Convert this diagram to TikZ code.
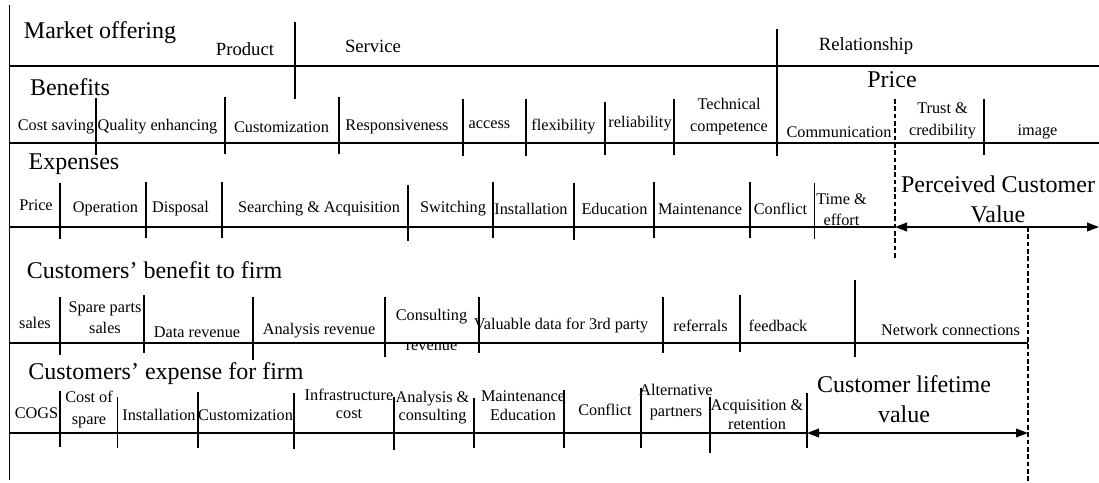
\documentclass[tikz,border=0pt]{standalone}
\usepackage{fontspec}
\setmainfont{Liberation Serif}
\usetikzlibrary{arrows.meta}
\begin{document}
\begin{tikzpicture}[x=0.75pt,y=-0.75pt,
  sepline/.style={line width=1pt},
  rowline/.style={line width=1.2pt},
  dashline/.style={line width=1pt, dash pattern=on 3.5pt off 2pt},
  span/.style={line width=1.2pt, {Triangle[length=9pt,width=6.5pt]}-{Triangle[length=9pt,width=6.5pt]}},
  big/.style={inner sep=0pt, font=\fontsize{18}{23}\selectfont, align=center},
  head/.style={inner sep=0pt, font=\fontsize{14}{16}\selectfont},
  lbl/.style={inner sep=0pt, font=\fontsize{12.2}{16}\selectfont, align=center},
  tight/.style={font=\fontsize{12.2}{14}\selectfont},
]
\useasboundingbox (0,0) rectangle (1099,482);

% ---- frame lines
\draw[sepline] (9.5,5) -- (9.5,480);
\draw[rowline] (9.5,66) -- (1099,66);
\draw[rowline] (9.5,143) -- (1099,143);
\draw[rowline] (9.5,227) -- (895,227);
\draw[rowline] (9.5,343) -- (1028,343);
\draw[rowline] (9.5,433) -- (807,433);

% ---- row 1 separators
\draw[sepline] (295,22) -- (295,99);
\draw[sepline] (777,29) -- (777,156);

% ---- row 2 separators
\foreach \x/\a/\b in {96/98/155, 225/97/154, 339/97/154, 463/99/156, 526/99/156, 605/102/155, 674/99/155, 984/99/155}
  \draw[sepline] (\x,\a) -- (\x,\b);

% ---- row 3 separators
\foreach \x/\a/\b in {60/183/239, 146/182/238, 222/182/238, 408/185/241, 493/182/238, 574/183/240, 654/182/238, 750/182/238, 814.5/183/239}
  \draw[sepline] (\x,\a) -- (\x,\b);

% ---- row 4 separators
\foreach \x/\a/\b in {60/297/355, 144/295/353, 253/297/360, 385/297/357, 479/297/353, 663/297/353, 740/295/352, 855/280/357}
  \draw[sepline] (\x,\a) -- (\x,\b);

% ---- row 5 separators
\foreach \x/\a/\b in {60/391/447, 117.5/397/448, 198/392/448, 294/393/449, 394/397/450, 474/398/448, 564/390/448, 641/388/448, 710/397/453, 807/393/448}
  \draw[sepline] (\x,\a) -- (\x,\b);

% ---- dashed limits and value spans
\coordinate (pcvTop) at (895,99);
\coordinate (pcvL) at (895,227);
\coordinate (pcvBot) at (895,259);
\coordinate (pcvR) at (1099,227);
\coordinate (cltTop) at (1028,227);
\coordinate (cltR) at (1028,433);
\coordinate (cltBot) at (1028,482);
\coordinate (cltL) at (807,433);
\draw[dashline] (pcvTop) -- (pcvBot);
\draw[dashline] (cltTop) -- (cltBot);
\draw[span] (pcvL) -- (pcvR);
\draw[span] (cltL) -- (cltR);

% ---- big headings
\node[big] (mo) at (100,33) {Market offering};
\node[big] (ben) at (70,87) {Benefits};
\node[big] (pr) at (892,80) {Price};
\node[big] (exp) at (74,164) {Expenses};
\node[big] (pcv) at (998,199.5) {Perceived Customer\\Value};
\node[big] (cbf) at (154.5,270) {Customers’ benefit to firm};
\node[big] (cef) at (166,374) {Customers’ expense for firm};
\node[big] (clv) at (904,399) {Customer lifetime\\value};

% ---- row 1
\node[head] (prod) at (245,49) {Product};
\node[head] (serv) at (373,46) {Service};
\node[head] (rel) at (866,46) {Relationship};

% ---- row 2
\node[lbl] (b1) at (56,127) {Cost saving};
\node[lbl] (b2) at (157.5,127) {Quality enhancing};
\node[lbl] (b3) at (281.5,127) {Customization};
\node[lbl] (b4) at (397,127) {Responsiveness};
\node[lbl] (b5) at (489.5,125) {access};
\node[lbl] (b6) at (563.5,127) {flexibility};
\node[lbl] (b7) at (640,124) {reliability};
\node[lbl] (b8) at (729,116.5) {Technical\\competence};
\node[lbl] (b9) at (839,132) {Communication};
\node[lbl] (b10) at (942.5,121) {Trust \&\\credibility};
\node[lbl] (b11) at (1037.5,132) {image};

% ---- row 3
\node[lbl] (e1) at (36,205) {Price};
\node[lbl] (e2) at (105.5,209) {Operation};
\node[lbl] (e3) at (180.5,209) {Disposal};
\node[lbl] (e4) at (319,209) {Searching \& Acquisition};
\node[lbl] (e5) at (453,209) {Switching};
\node[lbl] (e6) at (531,209) {Installation};
\node[lbl] (e7) at (614.5,209) {Education};
\node[lbl] (e8) at (700,209) {Maintenance};
\node[lbl] (e9) at (780.5,209) {Conflict};
\node[lbl] (e10) at (841.5,209.5) {Time \&\\effort};

% ---- row 4
\node[lbl] (f1) at (35,323) {sales};
\node[lbl] (f2) at (105,317.5) {Spare parts\\sales};
\node[lbl] (f3) at (197,332) {Data revenue};
\node[lbl] (f4) at (319,331) {Analysis revenue};
\node[lbl, font=\fontsize{12.2}{22}\selectfont] (f5) at (431.5,330) {Consulting\\revenue};
\node[lbl] (f6) at (561,326) {Valuable data for 3rd party};
\node[lbl] (f7) at (700.5,326) {referrals};
\node[lbl] (f8) at (778,326) {feedback};
\node[lbl] (f9) at (950.5,330) {Network connections};

% ---- row 5
\node[lbl] (g1) at (36.5,413) {COGS};
\node[lbl, font=\fontsize{12.2}{17}\selectfont] (g2) at (89,409.5) {Cost of\\spare};
\node[lbl] (g3) at (159,415) {Installation};
\node[lbl] (g4) at (245.5,415) {Customization};
\node[lbl, tight] (g5) at (349,404) {Infrastructure\\cost};
\node[lbl, tight] (g6) at (432.5,407.5) {Analysis \&\\consulting};
\node[lbl, tight] (g7) at (523,405.5) {Maintenance\\Education};
\node[lbl] (g8) at (605,410) {Conflict};
\node[lbl] (g9) at (676,402) {Alternative\\partners};
\node[lbl, tight] (g10) at (757,414.5) {Acquisition \&\\retention};
\end{tikzpicture}
\end{document}
